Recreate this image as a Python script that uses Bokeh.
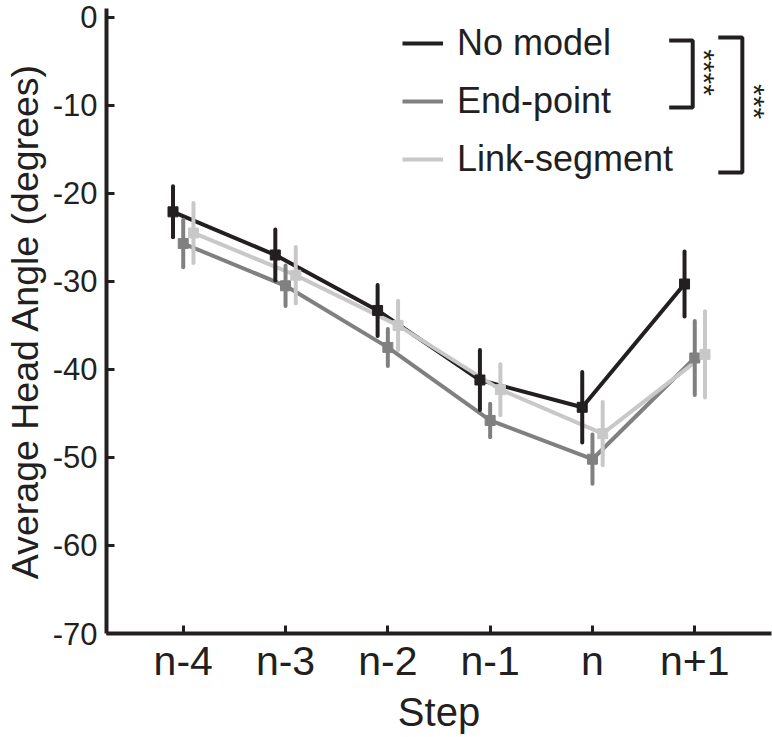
import math
from bokeh.plotting import figure
from bokeh.models import FixedTicker, Legend, LegendItem, Range1d
from bokeh.core.properties import value
from bokeh.embed import file_html
from bokeh.resources import INLINE

# ---- data ----
steps = ["n-4", "n-3", "n-2", "n-1", "n", "n+1"]
series_names = ["No model", "End-point", "Link-segment"]
no_model = [-22.1, -27.0, -33.3, -41.2, -44.3, -30.3]
no_model_err = [2.9, 2.9, 2.9, 3.4, 4.0, 3.7]
end_point = [-25.7, -30.5, -37.5, -45.8, -50.2, -38.7]
end_point_err = [2.7, 2.3, 2.1, 1.9, 2.8, 4.2]
link_segment = [-24.5, -29.3, -35.0, -42.3, -47.3, -38.3]
link_segment_err = [3.4, 3.2, 2.8, 2.9, 3.6, 4.9]
y_ticks = [0, -10, -20, -30, -40, -50, -60, -70]
y_tick_labels = ["0", "-10", "-20", "-30", "-40", "-50", "-60", "-70"]
sig_labels = ["****", "***"]

# ---- styles ----
colors = ["#231f20", "#808080", "#c8c8c8"]
offsets = [-0.1, 0.0, 0.1]
FONT = "Liberation Sans"
DARK = "#231f20"

p = figure(frame_width=665, frame_height=625,
           x_range=Range1d(0.25, 6.75), y_range=Range1d(-70, 1.0),
           output_backend="svg", toolbar_location=None,
           min_border_left=105, min_border_right=2, min_border_top=8,
           min_border_bottom=104)
p.outline_line_color = None
p.grid.visible = False
p.background_fill_color = "white"
p.border_fill_color = "white"

# axes
p.xaxis.ticker = FixedTicker(ticks=list(range(1, len(steps) + 1)))
p.xaxis.major_label_overrides = {i + 1: s for i, s in enumerate(steps)}
p.yaxis.ticker = FixedTicker(ticks=y_ticks)
p.yaxis.major_label_overrides = dict(zip(y_ticks, y_tick_labels))
p.xaxis.axis_label = "Step"
p.yaxis.axis_label = "Average Head Angle (degrees)"
for ax in (p.xaxis[0], p.yaxis[0]):
    ax.axis_line_width = 4
    ax.axis_line_color = DARK
    ax.major_tick_line_width = 3
    ax.major_tick_line_color = DARK
    ax.major_tick_in = 8
    ax.major_tick_out = 0
    ax.minor_tick_line_color = None
    ax.major_label_text_font = FONT
    ax.major_label_text_color = DARK
    ax.axis_label_text_font = FONT
    ax.axis_label_text_font_style = "normal"
    ax.axis_label_text_color = DARK
p.yaxis.major_label_text_font_size = "31px"
p.yaxis.major_label_standoff = 9
p.yaxis.axis_label_text_font_size = "37.5px"
p.yaxis.axis_label_standoff = 4
p.xaxis.major_label_text_font_size = "41px"
p.xaxis.major_label_standoff = 4
p.xaxis.axis_label_text_font_size = "40px"
p.xaxis.axis_label_standoff = 3

means = [no_model, end_point, link_segment]
errs = [no_model_err, end_point_err, link_segment_err]
base_x = list(range(1, len(steps) + 1))

line_renderers = []
for m, c, off in zip(means, colors, offsets):
    xs = [b + off for b in base_x]
    r = p.line(xs, m, line_color=c, line_width=4)
    line_renderers.append(r)

for m, e, c, off in zip(means, errs, colors, offsets):
    xs = [b + off for b in base_x]
    lo = [v - d for v, d in zip(m, e)]
    hi = [v + d for v, d in zip(m, e)]
    p.segment(xs, lo, xs, hi, line_color=c, line_width=4, line_cap="round")
    p.scatter(xs, m, marker="square", size=10, fill_color=c, line_color=c)

legend = Legend(items=[LegendItem(label=n, renderers=[r])
                       for n, r in zip(series_names, line_renderers)],
                location=(296, 452))
legend.label_text_font = FONT
legend.label_text_font_size = "36px"
legend.label_text_color = DARK
legend.glyph_width = 41
legend.glyph_height = 44
legend.label_height = 44
legend.label_standoff = 14
legend.spacing = 14
legend.padding = 0
legend.margin = 0
legend.border_line_color = None
legend.background_fill_alpha = 0
p.add_layout(legend)

# significance brackets (annotation positions in data units)
b1x = [5.75, 5.98, 5.98, 5.75]
b1y = [-2.64, -2.64, -10.25, -10.25]
b2x = [6.23, 6.465, 6.465, 6.23]
b2y = [-2.30, -2.30, -17.64, -17.64]
p.line(b1x, b1y, line_color=DARK, line_width=4)
p.line(b2x, b2y, line_color=DARK, line_width=4)
p.text(x=[6.095, 6.582], y=[-6.27, -9.57], text=sig_labels, angle=-math.pi / 2,
       text_font=value(FONT), text_font_size="30px", text_color=DARK,
       text_align="center", text_baseline="middle")

open("out.html", "w").write(file_html(p, INLINE))
